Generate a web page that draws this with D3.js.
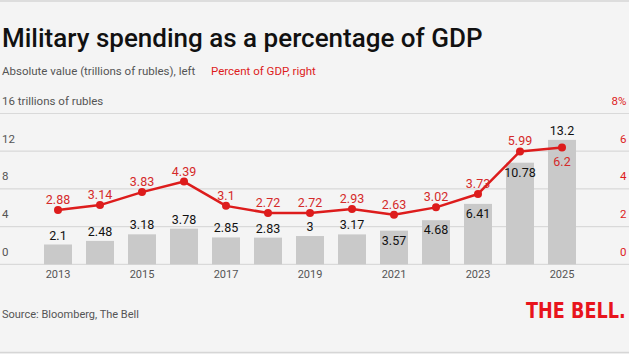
<!DOCTYPE html>
<html>
<head>
<meta charset="utf-8">
<script src="https://cdn.jsdelivr.net/npm/d3@7"></script>
<style>
  body { margin: 0; background: #f4f4f4; }
  svg { display: block; font-family: Roboto, "Noto Sans", sans-serif; }
</style>
</head>
<body>
<svg id="chart" width="629" height="354"></svg>
<script>
// data
let years = [2013, 2014, 2015, 2016, 2017, 2018, 2019, 2020, 2021, 2022, 2023, 2024, 2025];
let spending = [2.1, 2.48, 3.18, 3.78, 2.85, 2.83, 3, 3.17, 3.57, 4.68, 6.41, 10.78, 13.2];
let percentGdp = [2.88, 3.14, 3.83, 4.39, 3.1, 2.72, 2.72, 2.93, 2.63, 3.02, 3.73, 5.99, 6.2];
let leftTicks = [0, 4, 8, 12, 16];
let rightTicks = [0, 2, 4, 6, 8];
let yearTicks = [2013, 2015, 2017, 2019, 2021, 2023, 2025];
// bars whose label sits inside the bar
let insideLabels = [2021, 2022, 2023, 2024];

let W = 629, H = 354;
let svg = d3.select("#chart");
let red = "#dd1c1c";
let grey = "#555";

svg.append("rect").attr("width", W).attr("height", H).attr("fill", "#f4f4f4");
svg.append("line").attr("x1", 0).attr("x2", W).attr("y1", 1).attr("y2", 1).attr("stroke", "#d6d6d6").attr("stroke-width", 1.5);
svg.append("line").attr("x1", 0).attr("x2", W).attr("y1", 352.5).attr("y2", 352.5).attr("stroke", "#d6d6d6").attr("stroke-width", 1.5);

// scales
let x = d3.scaleBand().domain(years).range([44, 576]).paddingInner(1 / 3).paddingOuter(0);
let cx = d => x(d) + x.bandwidth() / 2;
let yL = d3.scaleLinear().domain([0, 16]).range([264.3, 113.5]);
let yR = d3.scaleLinear().domain([0, 8]).range([264.3, 113.5]);

// titles
svg.append("text").attr("x", 2).attr("y", 46.7).text("Military spending as a percentage of GDP")
    .attr("font-size", 26).attr("font-weight", 500).attr("fill", "#111");
svg.append("text").attr("x", 2).attr("y", 75).text("Absolute value (trillions of rubles), left")
    .attr("font-size", 11.5).attr("fill", grey);
svg.append("text").attr("x", 211).attr("y", 75).text("Percent of GDP, right")
    .attr("font-size", 11.5).attr("fill", red);

// gridlines
svg.append("g").selectAll("line").data(leftTicks).enter().append("line")
    .attr("x1", 0).attr("x2", W)
    .attr("y1", d => yL(d)).attr("y2", d => yL(d))
    .attr("stroke", "#d9d9d9").attr("stroke-width", 1.2);

// left axis labels
svg.append("g").selectAll("text").data(leftTicks).enter().append("text")
    .attr("x", 2).attr("y", d => yL(d) - 8.7)
    .text(d => d == 16 ? "16 trillions of rubles" : d)
    .attr("font-size", 11.5).attr("fill", grey);

// right axis labels
svg.append("g").selectAll("text").data(rightTicks).enter().append("text")
    .attr("x", 626.5).attr("y", d => yR(d) - 8.7).attr("text-anchor", "end")
    .text(d => d == 8 ? "8%" : d)
    .attr("font-size", 11.5).attr("fill", red);

// bars
svg.append("g").selectAll("rect").data(years).enter().append("rect")
    .attr("x", d => x(d)).attr("width", x.bandwidth())
    .attr("y", (d, i) => yL(spending[i]))
    .attr("height", (d, i) => yL(0) - yL(spending[i]))
    .attr("fill", "#c9c9c9");

// bar labels
svg.append("g").selectAll("text").data(years).enter().append("text")
    .attr("x", cx)
    .attr("y", (d, i) => insideLabels.includes(d) ? yL(spending[i]) + 14 : yL(spending[i]) - 5)
    .attr("text-anchor", "middle")
    .text((d, i) => spending[i])
    .attr("font-size", 12.5).attr("fill", "#111");

// year labels
svg.append("g").selectAll("text").data(yearTicks).enter().append("text")
    .attr("x", cx).attr("y", 277.5)
    .attr("text-anchor", "middle").text(d => d)
    .attr("font-size", 11).attr("fill", grey);

// percent line
let line = d3.line().x(cx).y((d, i) => yR(percentGdp[i]));
svg.append("path").datum(years).attr("d", line)
    .attr("fill", "none").attr("stroke", red).attr("stroke-width", 2.5).attr("stroke-linejoin", "round");
svg.append("g").selectAll("circle").data(years).enter().append("circle")
    .attr("cx", cx).attr("cy", (d, i) => yR(percentGdp[i]))
    .attr("r", 4).attr("fill", red);
svg.append("g").selectAll("text").data(years).enter().append("text")
    .attr("x", cx)
    .attr("y", (d, i) => d == 2025 ? yR(percentGdp[i]) + 19 : yR(percentGdp[i]) - 6)
    .attr("text-anchor", "middle").text((d, i) => percentGdp[i])
    .attr("font-size", 12.5).attr("fill", "#d42a2a");

// footer
svg.append("text").attr("x", 2).attr("y", 317.5).text("Source: Bloomberg, The Bell")
    .attr("font-size", 11).attr("fill", grey);
svg.append("text").attr("transform", "translate(526,318.3) scale(0.98,1.1)").text("THE BELL.")
    .attr("font-family", "'Liberation Sans Narrow', 'DejaVu Sans Condensed', sans-serif")
    .attr("font-size", 20).attr("font-weight", 700).attr("fill", "#e8141c");
</script>
</body>
</html>
